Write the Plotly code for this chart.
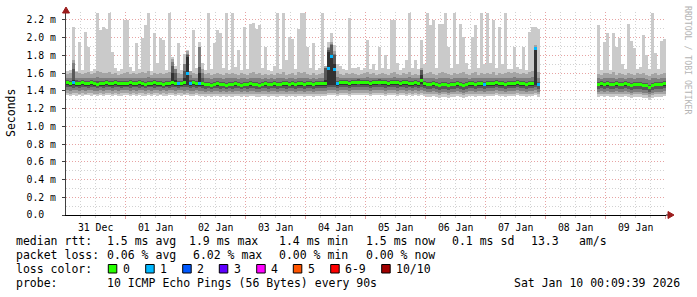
import plotly.graph_objects as go
import pandas as pd

# ---------------- data (RTT values in 1/100 ms) ----------------
START = "2025-12-31 00:09:39"
END = "2026-01-10 00:09:39"
STEP_MINUTES = 72
GAP = [None] * 19  # no data: 07 Jan evening -> 08 Jan evening

ping_max = [
    162,164,212,163,195,164,206,190,163,165,228,209,212,210,228,184,166,163,165,220,
    220,167,163,194,165,200,214,228,163,205,172,200,197,164,228,178,168,194,164,182,
    186,163,209,166,195,172,164,228,165,194,209,205,166,228,164,228,167,186,164,212,
    165,215,217,210,214,166,190,164,163,168,228,165,228,175,201,198,165,210,228,228,
    190,166,194,164,166,228,168,195,205,192,170,168,165,164,222,166,166,167,164,166,
    197,165,170,164,190,166,181,165,220,220,172,164,166,175,228,166,175,165,197,170,
    228,214,220,166,216,216,228,190,166,228,170,216,201,172,165,201,214,166,228,170,
    228,172,220,166,212,170,228,165,165,190,167,165,190,164,207,212,212,210,
] + GAP + [
    214,164,195,
    205,164,205,190,200,170,165,216,196,188,165,167,203,181,165,228,183,165,196,198,
]

ping_p9 = [
    159,160,175,161,160,159,160,161,159,160,162,161,160,160,161,159,160,158,159,160,
    161,159,160,159,160,161,160,162,158,160,159,160,159,160,161,176,165,160,159,170,
    185,163,160,159,190,165,159,160,158,159,160,159,158,160,159,160,159,158,160,159,
    158,160,161,159,160,158,159,158,159,158,160,159,161,158,159,160,158,161,160,161,
    159,158,160,158,159,160,168,190,195,185,162,159,158,160,159,160,159,158,159,160,
    161,159,160,158,159,160,159,158,160,161,159,158,160,159,161,158,159,158,166,159,
    160,161,159,158,160,161,160,159,158,160,159,160,161,159,158,160,161,158,160,159,
    160,159,161,158,160,159,160,161,160,161,160,159,160,159,161,162,192,161,
] + GAP + [
    159,158,160,
    160,159,161,158,160,159,158,160,159,158,160,159,160,158,157,159,160,158,159,160,
]

ping_p8 = [
    155,154,172,155,154,155,154,155,154,155,156,155,154,155,155,154,155,154,154,155,
    155,154,155,154,155,155,154,156,154,155,154,155,154,155,155,173,165,155,154,170,
    182,158,155,154,190,160,154,155,153,154,155,154,153,154,154,155,154,153,154,154,
    153,154,155,154,154,153,154,153,154,153,155,154,155,153,154,155,153,155,155,155,
    154,153,155,153,154,154,166,188,193,182,156,155,154,155,154,155,155,154,155,155,
    156,155,155,154,155,155,155,154,155,156,155,154,155,155,156,154,155,154,164,154,
    154,155,154,153,154,155,155,154,153,154,154,155,155,154,153,155,155,154,155,154,
    155,154,155,154,155,154,155,155,155,156,155,154,155,154,155,156,190,155,
] + GAP + [
    154,153,155,
    155,154,155,153,155,154,153,155,154,153,155,154,155,153,152,154,155,153,154,155,
]

ping_p7 = [
    152,151,165,152,151,152,151,151,152,151,151,151,151,152,151,151,152,151,151,151,
    151,152,151,151,152,151,150,151,151,152,151,151,150,151,151,168,160,151,151,162,
    180,152,152,151,167,155,150,150,149,150,151,150,150,149,150,150,151,150,149,150,
    150,151,150,150,149,150,151,150,150,151,150,150,151,151,150,151,150,151,151,150,
    151,151,150,151,151,151,166,186,192,180,151,152,152,152,151,152,152,153,152,152,
    152,151,152,152,153,152,152,151,152,152,152,151,152,152,151,151,152,151,164,151,
    150,150,151,150,149,150,150,149,150,150,151,150,149,150,151,151,150,151,151,150,
    151,151,151,152,151,151,150,151,151,151,152,151,151,150,151,151,189,150,
] + GAP + [
    150,151,150,
    151,150,150,151,150,150,151,150,149,150,150,150,149,149,147,149,150,150,150,151,
]

ping_p6 = [
    150,149,152,149,149,150,149,149,150,149,148,149,149,150,149,149,150,149,149,149,
    149,150,149,149,150,149,148,149,149,150,149,149,148,149,149,160,152,149,149,155,
    178,149,150,149,160,150,148,148,147,148,149,148,148,147,148,148,149,148,147,148,
    148,149,148,148,147,148,149,148,148,149,148,148,149,149,148,149,148,149,149,148,
    149,149,148,149,149,149,152,184,180,170,149,150,150,150,149,150,150,151,150,150,
    150,149,150,150,151,150,150,149,150,150,150,149,150,150,149,149,150,149,158,149,
    148,148,149,148,147,148,148,147,148,148,149,148,147,148,149,149,148,149,149,148,
    149,149,149,150,149,149,148,149,149,149,150,149,149,148,149,149,189,148,
] + GAP + [
    148,149,148,
    149,148,148,149,148,148,149,148,147,148,148,148,147,147,145,147,148,148,148,149,
]

median_rtt = [
    149,148,149,148,148,149,148,148,149,148,147,148,148,149,148,148,149,148,148,148,
    148,149,148,148,149,148,147,148,148,149,148,148,147,148,148,149,148,148,148,149,
    160,148,149,148,148,148,147,147,146,147,148,147,147,146,147,147,148,147,146,147,
    147,148,147,147,146,147,148,147,147,148,147,147,148,148,147,148,147,148,148,147,
    148,148,147,148,148,148,148,165,179,164,148,149,149,149,148,149,149,150,149,149,
    149,148,149,149,150,149,149,148,149,149,149,148,149,149,148,148,149,148,152,148,
    147,147,148,147,146,147,147,146,147,147,148,147,146,147,148,148,147,148,148,147,
    148,148,148,149,148,148,147,148,148,148,149,148,148,147,148,148,188,147,
] + GAP + [
    147,148,147,
    148,147,147,148,147,147,148,147,146,147,147,147,146,146,144,146,147,147,147,148,
]

ping_p5 = [
    147,146,147,146,146,147,146,146,147,146,145,146,146,147,146,146,147,146,146,146,
    146,147,146,146,147,146,145,146,146,147,146,146,145,146,146,147,146,146,146,147,
    147,146,147,146,146,146,145,145,144,145,146,145,145,144,145,145,146,145,144,145,
    145,146,145,145,144,145,146,145,145,146,145,145,146,146,145,146,145,146,146,145,
    146,146,145,146,146,146,146,147,147,147,146,147,147,147,146,147,147,148,147,147,
    147,146,147,147,148,147,147,146,147,147,147,146,147,147,146,146,147,146,148,146,
    145,145,146,145,144,145,145,144,145,145,146,145,144,145,146,146,145,146,146,145,
    146,146,146,147,146,146,145,146,146,146,147,146,146,145,146,146,147,145,
] + GAP + [
    145,146,145,
    146,145,145,146,145,145,146,145,144,145,145,145,144,144,142,144,145,145,145,146,
]

ping_p4 = [
    144,144,143,144,143,144,144,143,144,144,143,144,143,144,144,143,144,144,143,144,
    144,143,144,144,143,144,143,144,144,143,144,144,143,144,143,144,144,143,144,144,
    144,143,144,143,144,143,142,143,142,143,143,142,143,142,143,142,143,143,142,143,
    142,143,143,142,142,143,143,142,143,143,142,143,143,142,143,143,142,143,143,142,
    143,143,142,143,143,143,143,144,144,144,143,144,144,144,143,144,144,144,144,144,
    144,143,144,144,144,144,143,144,144,144,143,144,144,143,144,143,144,143,144,143,
    142,142,143,142,141,142,142,141,142,142,143,142,141,142,143,143,142,143,143,142,
    143,143,143,144,143,143,142,143,143,143,144,143,143,142,143,143,144,142,
] + GAP + [
    142,143,142,
    143,142,142,143,142,142,143,142,141,142,142,142,141,141,139,141,142,142,142,143,
]

ping_p3 = [
    141,140,141,141,140,141,140,141,141,140,140,141,140,141,141,140,141,140,141,141,
    141,140,141,140,141,141,140,141,140,141,141,140,141,140,141,141,140,141,141,140,
    141,140,140,141,140,140,139,140,139,140,140,139,140,139,140,139,140,140,139,140,
    139,140,140,139,139,140,140,139,140,140,139,140,140,139,140,140,139,140,140,139,
    140,140,139,140,140,140,140,141,141,141,140,141,141,141,140,141,141,141,141,141,
    141,140,141,141,141,141,140,141,141,141,140,141,141,140,141,140,141,140,141,140,
    139,139,140,139,138,139,139,138,139,139,140,139,138,139,140,140,139,140,140,139,
    140,140,140,141,140,140,139,140,140,140,141,140,140,139,140,140,141,139,
] + GAP + [
    139,140,139,
    140,139,139,140,139,139,140,139,138,139,139,139,138,138,136,138,139,139,139,140,
]

ping_p2 = [
    138,137,138,138,137,138,137,138,138,137,137,138,137,138,138,137,138,137,138,138,
    138,137,138,137,138,138,137,138,137,138,138,137,138,137,138,138,137,138,138,137,
    138,137,137,138,137,137,136,137,136,137,137,136,137,136,137,136,137,137,136,137,
    136,137,137,136,136,137,137,136,137,137,136,137,137,136,137,137,136,137,137,136,
    137,137,136,137,137,137,137,138,138,138,137,138,138,138,137,138,138,138,138,138,
    138,137,138,138,138,138,137,138,138,138,137,138,138,137,138,137,138,137,138,137,
    136,136,137,136,135,136,136,135,136,136,137,136,135,136,137,137,136,137,137,136,
    137,137,137,138,137,137,136,137,137,137,138,137,137,136,137,137,138,136,
] + GAP + [
    136,137,136,
    137,136,136,137,136,136,137,136,135,136,136,136,135,135,133,135,136,136,136,137,
]

ping_min = [
    135,134,135,134,135,134,135,135,134,135,134,135,134,135,135,134,135,134,134,135,
    135,134,135,134,135,134,134,135,134,135,134,135,134,134,135,135,134,135,134,135,
    135,134,134,135,134,134,133,134,133,134,134,133,134,133,134,133,134,134,133,134,
    133,134,134,133,133,134,134,133,134,134,133,134,134,133,134,134,133,134,134,133,
    134,134,133,134,134,134,134,135,135,135,134,135,135,135,134,135,135,135,135,135,
    135,134,135,135,135,135,134,135,135,135,134,135,135,134,135,134,135,134,135,134,
    133,133,134,133,132,133,133,132,133,133,134,133,132,133,134,134,133,134,134,133,
    134,134,134,135,134,134,133,134,134,134,135,134,134,133,134,134,135,133,
] + GAP + [
    133,134,133,
    134,133,133,134,133,133,134,133,132,133,133,133,132,132,130,132,133,133,133,134,
]

lost_pings = [
    0,0,1,0,0,0,0,0,0,0,0,0,0,0,0,0,0,0,0,0,
    0,0,0,0,0,0,0,0,0,0,0,0,0,0,0,0,0,1,0,0,
    1,1,0,0,1,0,0,0,0,0,0,0,0,0,0,0,0,0,0,0,
    0,0,0,0,0,0,0,0,0,0,0,0,0,0,0,0,0,0,0,0,
    0,0,0,0,0,0,0,1,1,1,1,0,0,0,0,0,0,0,0,0,
    0,0,0,0,0,0,0,0,0,0,0,0,0,0,0,0,0,0,0,0,
    0,0,0,0,0,0,0,0,0,0,0,0,0,0,0,0,0,0,0,1,
    0,0,0,0,0,0,0,0,0,0,0,0,0,0,0,0,1,1,
] + GAP + [
    0,0,0,
    0,0,0,0,0,0,0,0,0,0,0,0,0,0,0,0,0,0,0,0,
]

y_tick_values = [0.0, 0.2, 0.4, 0.6, 0.8, 1.0, 1.2, 1.4, 1.6, 1.8, 2.0, 2.2]
y_tick_labels = ["0.0\u00a0\u00a0", "0.2 m", "0.4 m", "0.6 m", "0.8 m", "1.0 m",
                 "1.2 m", "1.4 m", "1.6 m", "1.8 m", "2.0 m", "2.2 m"]

rtt_stats = ["1.5 ms avg", "1.9 ms max", "1.4 ms min", "1.5 ms now", "0.1 ms sd", "13.3", "am/s"]
loss_stats = ["0.06 % avg", "6.02 % max", "0.00 % min", "0.00 % now"]
loss_labels = ["0", "1", "2", "3", "4", "5", "6-9", "10/10"]
loss_legend_colors = ["#26ff00", "#00b8ff", "#0059ff", "#5e00ff", "#ff00ff", "#ff5500", "#ff0000", "#a10000"]
probe_text = "10 ICMP Echo Pings (56 Bytes) every 90s"
stamp_text = "Sat Jan 10 00:09:39 2026"

# ---------------- styling / layout constants ----------------
W, H = 697, 297
PL, PR, PT, PB = 66, 666, 12, 215          # plot area in pixels
Y_TOP = 2.29
MONO = "DejaVu Sans Mono"
SMOKE = ["#cacaca", "#a4a4a4", "#7e7e7e", "#585858", "#323232"]


def loss_color(n):
    if n <= 5:
        return loss_legend_colors[n]
    if n < 10:
        return loss_legend_colors[6]
    return loss_legend_colors[7]


def px(x):
    return (x - PL) / (PR - PL)


def py(y):
    return (PB - y) / (PB - PT)


t0 = pd.Timestamp(START)
n = len(ping_max)
times = [(t0 + pd.Timedelta(minutes=STEP_MINUTES * (i + 0.5))).strftime("%Y-%m-%d %H:%M:%S")
         for i in range(n)]
bar_w = STEP_MINUTES * 60 * 1000

fig = go.Figure()


def band(lo, hi, color):
    base = [None if (a is None or b is None) else a / 100 for a, b in zip(lo, hi)]
    h = [None if (a is None or b is None) else (b - a) / 100 for a, b in zip(lo, hi)]
    fig.add_trace(go.Bar(x=times, y=h, base=base, width=bar_w,
                         marker=dict(color=color, line=dict(width=0)),
                         hoverinfo="skip", showlegend=False))


band(ping_min, ping_max, SMOKE[0])
band(ping_p2, ping_p9, SMOKE[1])
band(ping_p3, ping_p8, SMOKE[2])
band(ping_p4, ping_p7, SMOKE[3])
band(ping_p5, ping_p6, SMOKE[4])

MED_H = 0.034
fig.add_trace(go.Bar(
    x=times,
    y=[None if m is None else MED_H for m in median_rtt],
    base=[None if m is None else m / 100 - MED_H / 2 for m in median_rtt],
    width=bar_w,
    marker=dict(color=[loss_color(l or 0) for l in lost_pings], line=dict(width=0)),
    hoverinfo="skip", showlegend=False))

grid_major = "#e7a3a3"
grid_minor = "#d2d2d2"

fig.update_layout(
    width=W, height=H,
    margin=dict(l=PL, r=W - PR, t=PT, b=H - PB),
    paper_bgcolor="white", plot_bgcolor="white",
    barmode="overlay", bargap=0, showlegend=False,
    font=dict(family=MONO, color="black"),
    xaxis=dict(
        type="date", range=[START, END],
        tick0="2025-12-31 00:00:00", dtick=86400000,
        ticklabelmode="period", tickformat="%d %b",
        tickfont=dict(family=MONO, size=9.8, color="black"),
        showgrid=True, gridcolor=grid_major, gridwidth=1, griddash="1px,2px",
        ticks="outside", ticklen=3, tickcolor=grid_major,
        minor=dict(dtick=21600000, tick0="2025-12-31 00:00:00", showgrid=True,
                   gridcolor=grid_minor, gridwidth=1, griddash="1px,2px",
                   ticks="outside", ticklen=2, tickcolor=grid_minor),
        showline=True, linecolor="black", linewidth=1,
        zeroline=False, fixedrange=True,
    ),
    yaxis=dict(
        range=[0, Y_TOP], tickmode="array", tickvals=y_tick_values, ticktext=y_tick_labels,
        tickfont=dict(family=MONO, size=9.8, color="black"),
        showgrid=True, gridcolor=grid_major, gridwidth=1, griddash="1px,2px",
        ticks="outside", ticklen=3, tickcolor="#404040", ticklabelstandoff=4,
        minor=dict(tickmode="linear", tick0=0, dtick=0.1, showgrid=True,
                   gridcolor=grid_minor, gridwidth=1, griddash="1px,2px"),
        showline=True, linecolor="#404040", linewidth=1,
        zeroline=False, fixedrange=True,
    ),
)

ann = []


def text(x, y, s, size=11.5, color="black", angle=0, xanchor="left"):
    ann.append(dict(x=px(x), y=py(y), xref="paper", yref="paper", text=s, showarrow=False,
                    xanchor=xanchor, yanchor="middle", textangle=angle,
                    borderpad=0, borderwidth=0,
                    font=dict(family=MONO, size=size, color=color)))


# axis title and watermark
text(11, 113, "Seconds", angle=-90, xanchor="center")
text(688, 60, "RRDTOOL / TOBI OETIKER", size=8.2, color="#b4b4b4", angle=90, xanchor="center")

# statistics lines
text(16, 241, "median rtt:")
for s, x in zip(rtt_stats, [107.3, 189.3, 279.3, 366, 451.7, 530.7, 579.3]):
    text(x, 241, s)
text(16, 255, "packet loss:")
for s, x in zip(loss_stats, [107, 193.3, 279.3, 366]):
    text(x, 255, s)
text(16, 269, "loss color:")
swatch_x = [108.3, 145.7, 182.7, 219.3, 256.7, 293.3, 330.7, 381.7]
label_x = [123.3, 160, 197.3, 234.3, 271, 308.3, 345, 396]
shapes = []
for lab, col, sx, lx in zip(loss_labels, loss_legend_colors, swatch_x, label_x):
    shapes.append(dict(type="rect", xref="paper", yref="paper",
                       x0=px(sx), x1=px(sx + 8.5), y0=py(273), y1=py(264.5),
                       fillcolor=col, line=dict(color="black", width=1)))
    text(lx, 269, lab)
text(16, 283, "probe:")
text(107.3, 283, probe_text)
text(680, 283, stamp_text, xanchor="right")

# axis arrows
arrow_col = "#9b1c1c"
shapes.append(dict(type="line", xref="paper", yref="paper", x0=px(666), x1=px(669),
                   y0=py(215), y1=py(215), line=dict(color="black", width=1)))
shapes.append(dict(type="path", xref="paper", yref="paper",
                   path=f"M {px(668)} {py(211.5)} L {px(674)} {py(215)} L {px(668)} {py(218.5)} Z",
                   fillcolor=arrow_col, line=dict(color=arrow_col, width=1)))
shapes.append(dict(type="path", xref="paper", yref="paper",
                   path=f"M {px(62.5)} {py(13)} L {px(66)} {py(7)} L {px(69.5)} {py(13)} Z",
                   fillcolor=arrow_col, line=dict(color=arrow_col, width=1)))

fig.update_layout(annotations=ann, shapes=shapes)

fig.write_html("out.html")
